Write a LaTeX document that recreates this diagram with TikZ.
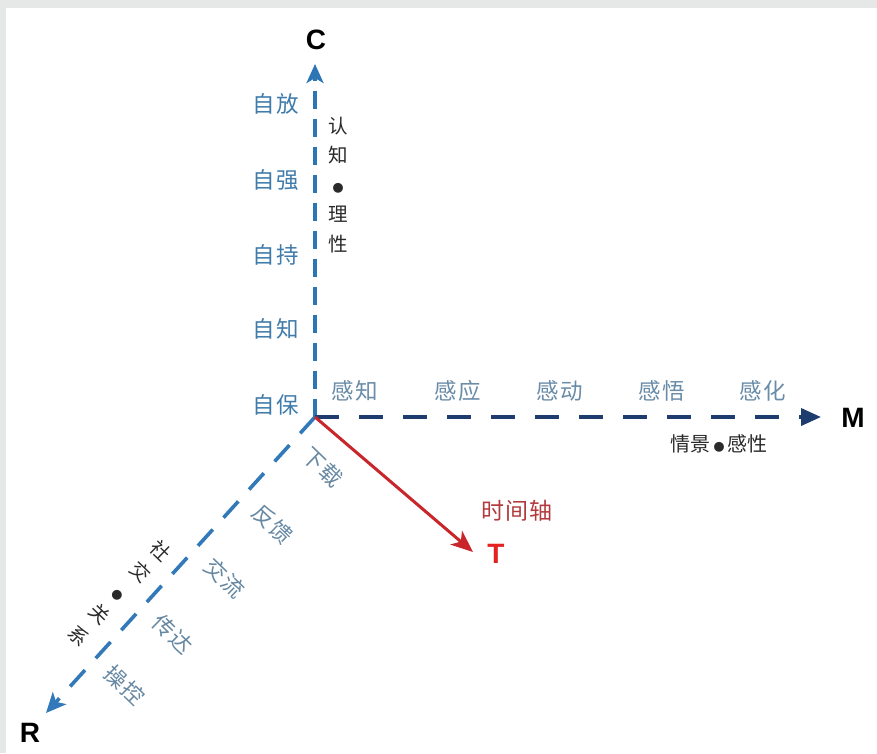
\documentclass[tikz,border=0pt]{standalone}
\usepackage{fontspec}
\usetikzlibrary{arrows.meta}
\newfontfamily\cjk[LetterSpace=6]{Noto Sans CJK SC}
\newfontfamily\cjkn{Noto Sans CJK SC}
\newfontfamily\latf{Liberation Sans}
\definecolor{bggray}{HTML}{E6E8E8}
\definecolor{cblue}{HTML}{2E75B6}
\definecolor{mnavy}{HTML}{1F3C6E}
\definecolor{rblue}{HTML}{3179B8}
\definecolor{ziblue}{HTML}{3F7CAC}
\definecolor{ganblue}{HTML}{6A8CA8}
\definecolor{rlblue}{HTML}{6688A2}
\definecolor{dtext}{HTML}{2A2A2A}
\definecolor{tred}{HTML}{C8262B}
\definecolor{tlabel}{HTML}{E52222}
\definecolor{ttext}{HTML}{B23A3E}
\tikzset{
  axlbl/.style={font=\latf\bfseries\fontsize{28}{28}\selectfont, text=black, inner sep=0pt},
  zilbl/.style={font=\cjk\fontsize{22.5}{22.5}\selectfont, text=ziblue, inner sep=0pt},
  ganlbl/.style={font=\cjk\fontsize{22.5}{22.5}\selectfont, text=ganblue, inner sep=0pt},
  rlbl/.style={font=\cjk\fontsize{22}{22}\selectfont, text=rlblue, inner sep=0pt, rotate=-44},
  colbl/.style={font=\cjkn\fontsize{19.5}{29.5}\selectfont, text=dtext, inner sep=0pt, align=center},
  axisC/.style={draw=cblue, line width=3.6pt, dash pattern=on 18pt off 10pt,
     -{Stealth[length=19pt,width=17pt,inset=5pt]}},
  axisM/.style={draw=mnavy, line width=3.6pt, dash pattern=on 24pt off 20pt,
     -{Triangle[length=20pt,width=17pt]}},
  axisR/.style={draw=rblue, line width=3.6pt, dash pattern=on 22pt off 16pt,
     -{Stealth[length=20pt,width=18pt,inset=5pt]}},
  axisT/.style={draw=tred, line width=3pt, -{Stealth[length=22pt,width=18pt,inset=6pt]}},
}
\newcommand{\smdot}{{\fontsize{11}{11}\selectfont ●}}
\begin{document}
\begin{tikzpicture}[x=1pt,y=-1pt]
\useasboundingbox (0,0) rectangle (877,753);
\fill[bggray] (0,0) rectangle (877,753);
\fill[white] (6,8) rectangle (877,753);

\coordinate (O) at (315,417);
\coordinate (Ctip) at (315,64);
\coordinate (Mtip) at (821,417);
\coordinate (Rtip) at (46,713);
\coordinate (Ttip) at (473,552);

\draw[axisR] (O) -- (Rtip);
\draw[axisC] (O) -- (Ctip);
\draw[axisM] (O) -- (Mtip);
\draw[axisT] (O) -- (Ttip);

\node[axlbl] (C) at (316,40) {C};
\node[axlbl] (M) at (853,418) {M};
\node[axlbl] (R) at (30,733) {R};
\node[axlbl, text=tlabel] (T) at (496,554) {T};

% C axis labels
\node[zilbl] (z1) at (276,104) {自放};
\node[zilbl] (z2) at (276,180) {自强};
\node[zilbl] (z3) at (276,255) {自持};
\node[zilbl] (z4) at (276,329) {自知};
\node[zilbl] (z5) at (276,405) {自保};
\node[colbl] (cog) at (338,185) {认\\知\\\smdot\\理\\性};

% M axis labels
\node[ganlbl] (g1) at (355,391) {感知};
\node[ganlbl] (g2) at (458,391) {感应};
\node[ganlbl] (g3) at (560,391) {感动};
\node[ganlbl] (g4) at (662,391) {感悟};
\node[ganlbl] (g5) at (763,391) {感化};
\node[font=\cjkn\fontsize{20}{20}\selectfont, text=dtext, inner sep=0pt] (qj) at (719,444) {情景\,\smdot\,感性};

% R axis labels
\node[rlbl] (r1) at (323,467) {下载};
\node[rlbl] (r2) at (273,524) {反馈};
\node[rlbl] (r3) at (225,578) {交流};
\node[rlbl] (r4) at (173,634) {传达};
\node[rlbl] (r5) at (125,685) {操控};
\node[colbl, rotate=-44] (soc) at (120,593) {社\\交\\\smdot\\关\\系};

% T label
\node[font=\cjk\fontsize{23}{23}\selectfont, text=ttext, inner sep=0pt] (tl) at (517,511) {时间轴};
\end{tikzpicture}
\end{document}
